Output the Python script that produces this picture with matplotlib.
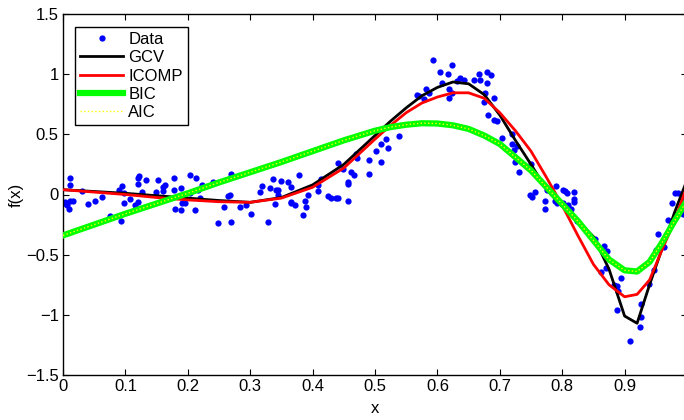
import matplotlib
matplotlib.use("Agg")
import matplotlib.pyplot as plt
import numpy as np

plt.rcParams.update({
    "font.family": ["Liberation Sans", "DejaVu Sans"],
    "font.size": 12,
    "axes.linewidth": 1.0,
    "xtick.direction": "in",
    "ytick.direction": "in",
    "xtick.top": True,
    "ytick.right": True,
    "xtick.major.size": 4,
    "ytick.major.size": 4,
    "axes.unicode_minus": True,
})

# -------------------------
# Data
# -------------------------
data_x = [
    0.003, 0.005, 0.007, 0.009, 0.011, 0.016, 0.011, 0.012,
    0.030, 0.040, 0.052, 0.063, 0.076, 0.089, 0.093, 0.094, 0.098, 0.098,
    0.107, 0.116, 0.120, 0.122, 0.120, 0.120, 0.127, 0.133, 0.149, 0.153,
    0.160, 0.161, 0.163, 0.178, 0.178, 0.180, 0.189, 0.190, 0.195, 0.189,
    0.204, 0.213, 0.204, 0.217, 0.222, 0.212, 0.220, 0.241, 0.249, 0.258,
    0.265, 0.268, 0.269, 0.270, 0.284, 0.293, 0.301, 0.316, 0.319, 0.328,
    0.331, 0.337, 0.339, 0.342, 0.344, 0.345, 0.350, 0.360, 0.365, 0.366,
    0.366, 0.372, 0.379, 0.385, 0.388, 0.389, 0.393, 0.408, 0.409, 0.413,
    0.425, 0.430, 0.438, 0.441, 0.441, 0.448, 0.456, 0.456, 0.457, 0.461,
    0.467, 0.470, 0.471, 0.490, 0.490, 0.501, 0.509, 0.510, 0.517, 0.521,
    0.538, 0.567, 0.571, 0.578, 0.582, 0.586, 0.593, 0.604, 0.608, 0.617,
    0.618, 0.619, 0.623, 0.623, 0.631, 0.637, 0.643, 0.659, 0.666, 0.668,
    0.677, 0.675, 0.679, 0.680, 0.686, 0.691, 0.681, 0.691, 0.695, 0.703,
    0.719, 0.719, 0.723, 0.728, 0.724, 0.731, 0.750, 0.748, 0.752, 0.756,
    0.772, 0.772, 0.776, 0.788, 0.790, 0.791, 0.801, 0.802, 0.804, 0.807,
    0.810, 0.814, 0.819, 0.819, 0.819, 0.824, 0.853, 0.862, 0.867, 0.870,
    0.871, 0.883, 0.888, 0.888, 0.890, 0.894, 0.908, 0.925, 0.927, 0.927,
    0.939, 0.947, 0.951, 0.954, 0.963, 0.970, 0.976, 0.981, 0.986, 0.993,
    0.993,
]
data_y = [
    -0.06, -0.08, -0.09, -0.12, -0.05, -0.05, 0.08, 0.14,
    0.03, -0.08, -0.05, -0.02, -0.18, 0.04, -0.22, 0.07, 0.01, -0.07,
    -0.04, -0.09, 0.14, 0.15, 0.09, -0.06, 0.02, 0.12, 0.02, 0.12,
    0.06, 0.03, 0.08, 0.14, 0.04, -0.12, 0.05, -0.07, -0.07, -0.13,
    0.16, 0.14, 0.01, 0.04, 0.08, -0.13, -0.03, 0.10, -0.24, -0.10,
    -0.01, 0.00, 0.17, -0.23, -0.10, -0.09, -0.16, 0.02, 0.07, -0.23,
    0.05, 0.13, -0.08, 0.04, 0.00, 0.04, 0.11, 0.10, -0.06, 0.06,
    -0.07, -0.09, 0.16, -0.17, -0.05, -0.10, 0.00, 0.08, 0.03, 0.13,
    -0.01, -0.03, -0.03, -0.03, 0.26, 0.21, -0.05, 0.09, 0.10, 0.19,
    0.16, 0.34, 0.30, 0.29, 0.17, 0.36, 0.27, 0.42, 0.46, 0.39,
    0.49, 0.83, 0.82, 0.79, 0.88, 0.84, 1.12, 1.02, 0.93, 1.00,
    0.88, 0.80, 1.08, 0.84, 0.94, 0.97, 0.95, 0.95, 1.00, 0.95,
    0.84, 0.77, 1.02, 0.93, 0.99, 0.80, 0.66, 0.62, 0.61, 0.47,
    0.50, 0.42, 0.37, 0.40, 0.27, 0.19, 0.25, 0.00, -0.02, 0.02,
    -0.05, -0.12, 0.04, -0.05, 0.07, -0.07, 0.04, -0.07, 0.03, 0.01,
    -0.09, -0.12, 0.02, -0.04, -0.06, -0.22, -0.37, -0.64, -0.43, -0.61,
    -0.47, -0.75, -0.76, -0.96, -0.80, -0.69, -1.22, -1.10, -0.91, -1.02,
    -0.74, -0.63, -0.46, -0.33, -0.44, -0.21, -0.07, 0.01, 0.01, -0.16,
    -0.04,
]

curve_x = [0.0, 0.05, 0.1, 0.15, 0.2, 0.25, 0.3, 0.35, 0.4, 0.45, 0.5, 0.525,
           0.55, 0.575, 0.6, 0.625, 0.65, 0.675, 0.7, 0.725, 0.75, 0.775, 0.8,
           0.825, 0.85, 0.875, 0.9, 0.92, 0.94, 0.96, 0.98, 1.0]
gcv_y = [0.04, 0.025, 0.01, -0.01, -0.03, -0.05, -0.065, -0.025, 0.08, 0.25,
         0.49, 0.61, 0.72, 0.82, 0.89, 0.935, 0.92, 0.83, 0.66, 0.45, 0.25,
         0.04, -0.10, -0.22, -0.35, -0.62, -1.01, -1.07, -0.75, -0.45, -0.15,
         0.12]
icomp_y = [0.04, 0.02, 0.0, -0.025, -0.045, -0.06, -0.065, -0.03, 0.06, 0.22,
           0.46, 0.575, 0.68, 0.76, 0.81, 0.845, 0.845, 0.80, 0.68, 0.53, 0.36,
           0.14, -0.09, -0.34, -0.58, -0.75, -0.85, -0.83, -0.71, -0.46, -0.22,
           0.07]
bic_y = [-0.34, -0.25, -0.16, -0.075, 0.01, 0.10, 0.185, 0.27, 0.36, 0.45,
         0.53, 0.56, 0.58, 0.592, 0.59, 0.575, 0.545, 0.49, 0.42, 0.31, 0.20,
         0.06, -0.08, -0.22, -0.38, -0.54, -0.63, -0.64, -0.56, -0.40, -0.22,
         -0.05]
aic_y = bic_y  # AIC picks the same model as BIC

fig = plt.figure(figsize=(6.84, 4.2), dpi=100)
ax = fig.add_axes([63 / 684, 45 / 420, 624 / 684, 361 / 420])

ax.plot(data_x, data_y, "o", color="#0000ff", markersize=4.5, markeredgewidth=0,
        label="Data", zorder=2)
ax.plot(curve_x, gcv_y, color="black", linewidth=2, label="GCV", zorder=3)
ax.plot(curve_x, icomp_y, color="#ff0000", linewidth=2, label="ICOMP", zorder=4)
ax.plot(curve_x, bic_y, color="#00ff00", linewidth=4.5, label="BIC", zorder=5)
ax.plot(curve_x, aic_y, color="#ffff00", linewidth=1, linestyle=":",
        label="AIC", zorder=6)

ax.set_xlim(0, 1)
ax.set_ylim(-1.5, 1.5)
ax.set_xticks(np.arange(0, 1.01, 0.1))
ax.set_xticklabels(["0", "0.1", "0.2", "0.3", "0.4", "0.5", "0.6", "0.7",
                    "0.8", "0.9", ""])
ax.set_yticks([-1.5, -1, -0.5, 0, 0.5, 1, 1.5])
ax.set_yticklabels(["\u22121.5", "\u22121", "\u22120.5", "0", "0.5", "1", "1.5"])
ax.tick_params(pad=3)
ax.set_xlabel("x", labelpad=5)
ax.set_ylabel("f(x)", labelpad=2)

leg = ax.legend(loc="upper left", bbox_to_anchor=(0.019, 0.964),
                borderaxespad=0, fancybox=False, edgecolor="black",
                framealpha=1, numpoints=1, handlelength=2.6,
                handletextpad=0.3, labelspacing=0.2, borderpad=0.3,
                fontsize=12)
leg.get_frame().set_linewidth(1.0)

fig.savefig("out.png", dpi=100)
